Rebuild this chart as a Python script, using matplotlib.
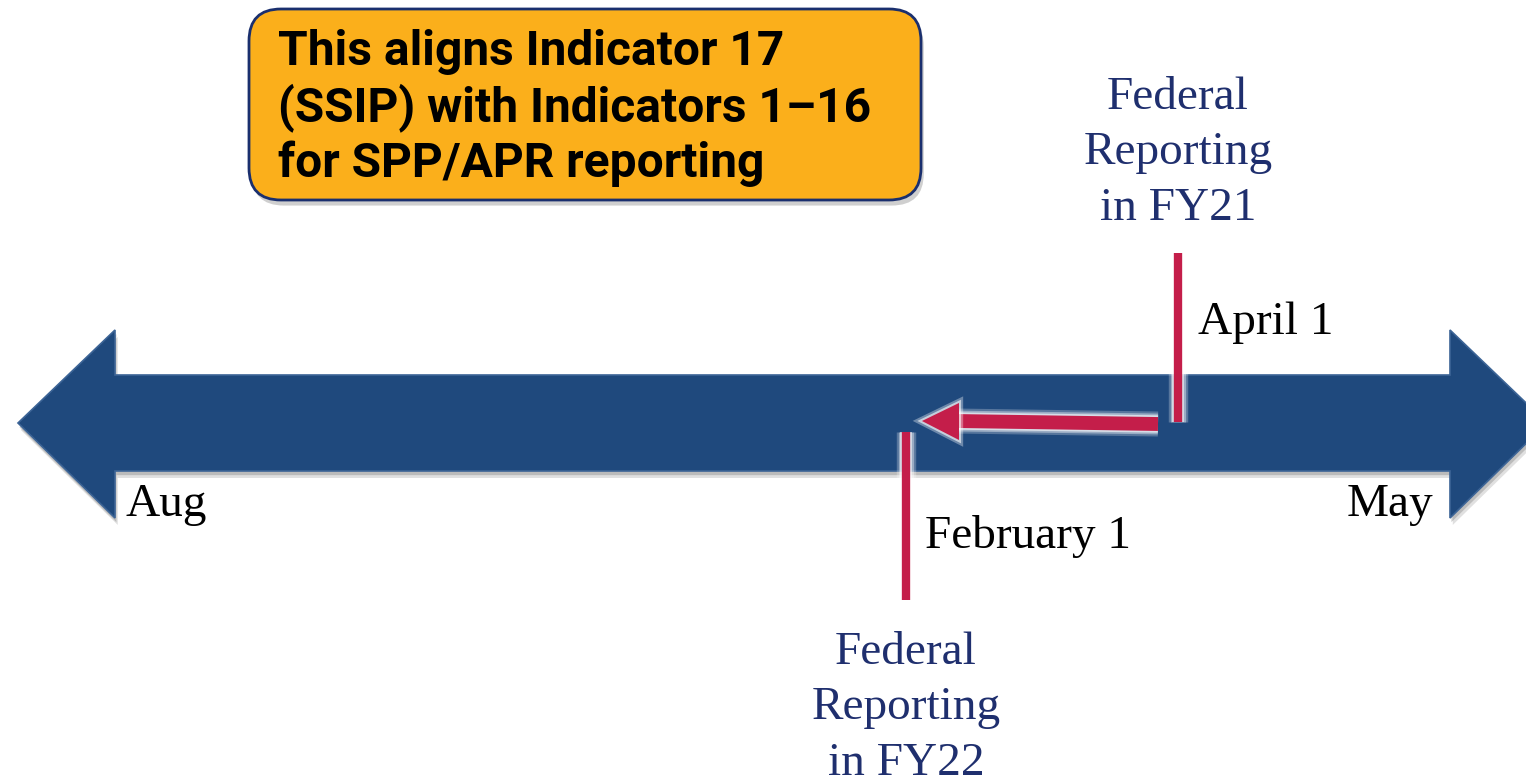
import matplotlib
matplotlib.use("Agg")
import matplotlib.pyplot as plt
import matplotlib.patheffects as pe
from matplotlib.patches import Polygon, FancyBboxPatch

# ── Content ──
MONTHS = ["Aug", "May"]
MILESTONES = ["April 1", "February 1"]
MILESTONE_MONTH = [8, 6]          # months after Aug 1
REPORT_YEARS = ["FY21", "FY22"]
CALLOUT = "This aligns Indicator 17\n(SSIP) with Indicators 1\u201316\nfor SPP/APR reporting"

# ── Layout (pixel space) ──
W, H = 1526, 782
X_AUG = 90          # x of Aug 1
PX_MONTH = 136      # pixels per month
SHAFT_TOP, SHAFT_BOT = 375, 471
HEAD_TOP, HEAD_BOT = 330, 518
MID_Y = (SHAFT_TOP + SHAFT_BOT) / 2
HEAD_L, HEAD_R = 115, 1450

BLUE = "#1F497D"
RED = "#C41E4A"
NAVY = "#1F2F6E"
ORANGE = "#FBAF1B"
SERIF = ["Liberation Serif", "DejaVu Serif"]
FS = 34


def month_x(m):
    return X_AUG + m * PX_MONTH


def soft_glow(lw):
    # layered white strokes give a soft halo
    return [pe.Stroke(linewidth=lw + 8, foreground="white", alpha=0.25),
            pe.Stroke(linewidth=lw + 5, foreground="white", alpha=0.4),
            pe.Stroke(linewidth=lw + 2.5, foreground="white", alpha=0.6),
            pe.Normal()]


fig = plt.figure(figsize=(W / 100, H / 100), dpi=100)
ax = fig.add_axes([0, 0, 1, 1])
ax.set_xlim(0, W)
ax.set_ylim(H, 0)
ax.axis("off")

# ── Timeline double arrow ──
arrow = Polygon([(18, MID_Y), (HEAD_L, HEAD_TOP), (HEAD_L, SHAFT_TOP),
                 (HEAD_R, SHAFT_TOP), (HEAD_R, HEAD_TOP), (HEAD_R + 97, MID_Y),
                 (HEAD_R, HEAD_BOT), (HEAD_R, SHAFT_BOT), (HEAD_L, SHAFT_BOT),
                 (HEAD_L, HEAD_BOT)],
                closed=True, facecolor=BLUE, edgecolor="#3C6496", linewidth=1.2,
                zorder=2)
arrow.set_path_effects([pe.SimplePatchShadow(offset=(2, -5), shadow_rgbFace="#999999",
                                             alpha=0.3),
                        pe.SimplePatchShadow(offset=(1, -3), shadow_rgbFace="#777777",
                                             alpha=0.35), pe.Normal()])
ax.add_patch(arrow)

# ── Callout box ──
box = FancyBboxPatch((249, 9), 672, 191, boxstyle="round,pad=0,rounding_size=32",
                     facecolor=ORANGE, edgecolor="#1A2F6E", linewidth=2, zorder=3)
box.set_path_effects([pe.SimplePatchShadow(offset=(2, -4), shadow_rgbFace="#888888",
                                           alpha=0.4), pe.Normal()])
ax.add_patch(box)
ax.text(278, 108, CALLOUT, fontsize=34.5, fontweight="bold", family=["Roboto", "DejaVu Sans"],
        color="black", va="center", ha="left", linespacing=1.22, zorder=4)

# ── Milestones ──
apr_x = month_x(MILESTONE_MONTH[0])
feb_x = month_x(MILESTONE_MONTH[1])
ax.plot([apr_x, apr_x], [253, 422], color=RED, lw=6, solid_capstyle="butt",
        path_effects=soft_glow(6), zorder=5)
ax.plot([feb_x, feb_x], [432, 600], color=RED, lw=6, solid_capstyle="butt",
        path_effects=soft_glow(6), zorder=5)

# moved-earlier arrow
ax.plot([apr_x - 20, feb_x + 50], [424, 421], color=RED, lw=10, solid_capstyle="butt",
        path_effects=soft_glow(10), zorder=5)
tri = Polygon([(feb_x + 16, 421), (feb_x + 53, 403), (feb_x + 53, 440)], closed=True,
              facecolor=RED, edgecolor="none", zorder=6)
tri.set_path_effects([pe.Stroke(linewidth=6, foreground="white", alpha=0.35),
                      pe.Stroke(linewidth=3, foreground="white", alpha=0.6), pe.Normal()])
ax.add_patch(tri)

ax.text(apr_x + 20, 323, MILESTONES[0], fontsize=FS, family=SERIF, color="black",
        va="center", ha="left", zorder=6)
ax.text(feb_x + 19, 537, MILESTONES[1], fontsize=FS, family=SERIF, color="black",
        va="center", ha="left", zorder=6)

ax.text(apr_x, 153, "Federal\nReporting\nin " + REPORT_YEARS[0], fontsize=FS, family=SERIF,
        color=NAVY, ha="center", va="center", linespacing=1.4, zorder=6)
ax.text(feb_x, 708, "Federal\nReporting\nin " + REPORT_YEARS[1], fontsize=FS, family=SERIF,
        color=NAVY, ha="center", va="center", linespacing=1.4, zorder=6)

# ── Month ends ──
ax.text(125, 505, MONTHS[0], fontsize=FS, family=SERIF, color="black",
        ha="left", va="center", zorder=6)
ax.text(1433, 505, MONTHS[1], fontsize=FS, family=SERIF, color="black",
        ha="right", va="center", zorder=6)

fig.savefig("out.png", dpi=100)
